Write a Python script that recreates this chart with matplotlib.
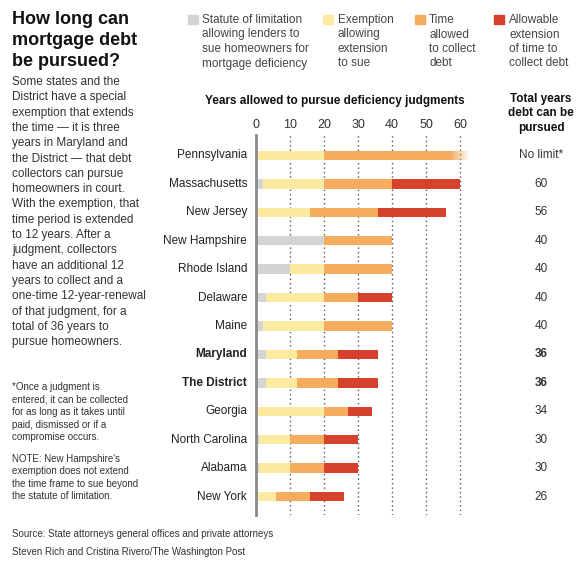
import matplotlib.pyplot as plt
from matplotlib.patches import Rectangle

plt.rcParams['font.family'] = ['Liberation Sans', 'DejaVu Sans']

W, H = 584, 563

states = ["Pennsylvania", "Massachusetts", "New Jersey", "New Hampshire",
          "Rhode Island", "Delaware", "Maine", "Maryland", "The District",
          "Georgia", "North Carolina", "Alabama", "New York"]
bold_states = ["Maryland", "The District"]

# years in each stage
statute = [0, 2, 0, 20, 10, 3, 2, 3, 3, 0, 1, 1, 0]
exemption = [20, 18, 16, 0, 10, 17, 18, 9, 9, 20, 9, 9, 6]
collect = [43, 20, 20, 20, 20, 10, 20, 12, 12, 7, 10, 10, 10]
extension = [0, 20, 20, 0, 0, 10, 0, 12, 12, 7, 10, 10, 10]
no_limit = [True] + [False] * 12
fade_years = 6

totals = ["No limit*", "60", "56", "40", "40", "40", "40", "36", "36",
          "34", "30", "30", "26"]

ticks = [0, 10, 20, 30, 40, 50, 60]

legend_labels = [
    ["Statute of limitation", "allowing lenders to", "sue homeowners for", "mortgage deficiency"],
    ["Exemption", "allowing", "extension", "to sue"],
    ["Time", "allowed", "to collect", "debt"],
    ["Allowable", "extension", "of time to", "collect debt"],
]
colors = ["#d4d4d4", "#fce9a2", "#f4ad5d", "#d5412d"]

body = ["Some states and the", "District have a special", "exemption that extends",
        "the time \u2014 it is three", "years in Maryland and", "the District \u2014 that debt",
        "collectors can pursue", "homeowners in court.", "With the exemption, that",
        "time period is extended", "to 12 years. After a", "judgment, collectors",
        "have an additional 12", "years to collect and a", "one-time 12-year-renewal",
        "of that judgment, for a", "total of 36 years to", "pursue homeowners."]
footnote = ["*Once a judgment is", "entered, it can be collected",
            "for as long as it takes until", "paid, dismissed or if a",
            "compromise occurs."]
note = ["NOTE: New Hampshire's", "exemption does not extend",
        "the time frame to sue beyond", "the statute of limitation."]


def fy(py):
    return 1 - py / H


def fx(px):
    return px / W


fig = plt.figure(figsize=(W / 100, H / 100), dpi=100)

ax = fig.add_axes([fx(256), fy(515), 217.6 / W, 380 / H])
n = len(states)
ys = list(range(n))
h = 0.33

left = [0] * n
for vals, c in zip([statute, exemption], colors[:2]):
    ax.barh(ys, vals, left=left, height=h, color=c, zorder=3)
    left = [l + v for l, v in zip(left, vals)]

solid = [v - fade_years if nl else v for v, nl in zip(collect, no_limit)]
ax.barh(ys, solid, left=left, height=h, color=colors[2], zorder=3)
for i in range(n):
    if no_limit[i]:
        start = left[i] + solid[i]
        steps = 30
        for k in range(steps):
            ax.barh(i, fade_years / steps, left=start + k * fade_years / steps,
                    height=h, color=colors[2], alpha=1 - (k + 0.5) / steps,
                    zorder=3, linewidth=0)
left = [l + v for l, v in zip(left, collect)]
ax.barh(ys, extension, left=left, height=h, color=colors[3], zorder=3)

ax.set_xlim(0, 64)
ax.set_ylim(n - 1 + 0.65, -0.72)
ax.set_xticks(ticks)
ax.xaxis.tick_top()
ax.tick_params(axis='x', length=0, pad=3, labelsize=9, labelcolor="#333333")
ax.set_yticks([])
for t in ticks[1:]:
    ax.axvline(t, color="#555555", linestyle=(0, (1, 2.2)), linewidth=1, zorder=1)
for s in ["top", "right", "bottom"]:
    ax.spines[s].set_visible(False)
ax.spines["left"].set_color("#8a8a8a")
ax.spines["left"].set_linewidth(2)
ax.spines["left"].set_zorder(4)

for i, name in enumerate(states):
    ax.text(-2.6, i, name, ha="right", va="center", fontsize=8.5, color="#222222",
            fontweight="bold" if name in bold_states else "normal")
    ax.text(83.8, i, totals[i], ha="center", va="center", fontsize=8.5, color="#333333",
            fontweight="bold" if states[i] in bold_states else "normal")

# headings
for k, line in enumerate(["How long can", "mortgage debt", "be pursued?"]):
    fig.text(fx(12), fy(24 + k * 21), line, fontsize=13, fontweight="bold",
             color="#111111", va="baseline")
for k, line in enumerate(body):
    fig.text(fx(12), fy(85 + k * 15.3), line, fontsize=8.5, color="#333333", va="baseline")
for k, line in enumerate(footnote):
    fig.text(fx(12), fy(390 + k * 12.5), line, fontsize=7, color="#333333", va="baseline")
for k, line in enumerate(note):
    fig.text(fx(12), fy(462 + k * 12.4), line, fontsize=7, color="#333333", va="baseline")
fig.text(fx(12), fy(537), "Source: State attorneys general offices and private attorneys",
         fontsize=7, color="#333333", va="baseline")
fig.text(fx(12), fy(555), "Steven Rich and Cristina Rivero/The Washington Post",
         fontsize=7, color="#333333", va="baseline")

fig.text(fx(335), fy(104), "Years allowed to pursue deficiency judgments",
         fontsize=8.5, fontweight="bold", color="#111111", ha="center", va="baseline")
for k, line in enumerate(["Total years", "debt can be", "pursued"]):
    fig.text(fx(541), fy(102 + k * 14.5), line, fontsize=8.5, fontweight="bold",
             color="#111111", ha="center", va="baseline")

# legend
sq_x = [188, 323, 415, 494]
tx_x = [202, 338, 429, 509]
for j in range(4):
    fig.patches.append(Rectangle((fx(sq_x[j]), fy(24)), 10 / W, 9 / H,
                                 transform=fig.transFigure, color=colors[j]))
    for k, line in enumerate(legend_labels[j]):
        fig.text(fx(tx_x[j]), fy(23 + k * 14.5), line, fontsize=8.5,
                 color="#444444", va="baseline")

fig.savefig("out.png", dpi=100)
